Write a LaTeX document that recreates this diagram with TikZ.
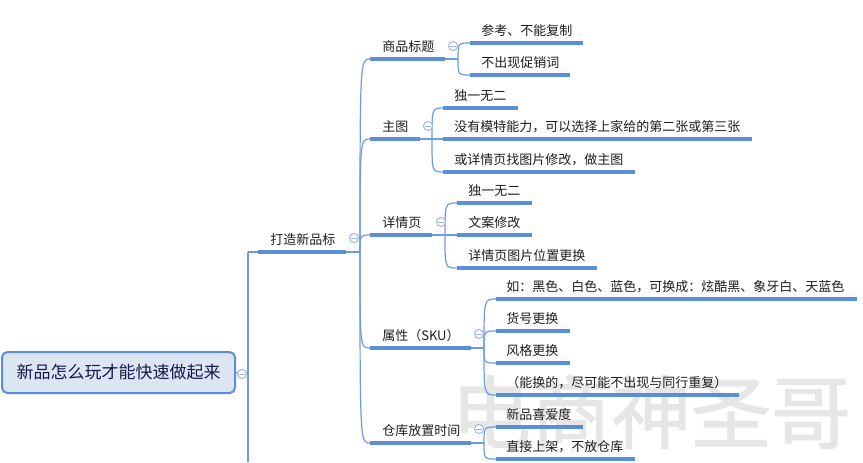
\documentclass[tikz,border=0pt]{standalone}
\usepackage{fontspec}
\setmainfont{Noto Sans CJK SC}
\newfontfamily\wmfont[FakeBold=1.2]{Noto Sans CJK SC}
\definecolor{lineblue}{HTML}{5A8ED8}
\definecolor{thinblue}{HTML}{6C9CE0}
\definecolor{circblue}{HTML}{9DB3DF}
\definecolor{rootfill}{HTML}{DCE6F3}
\definecolor{rootdraw}{HTML}{5B8ED6}
\definecolor{txtcol}{HTML}{1E1E1E}
\definecolor{wmark}{HTML}{E6E6E6}
\tikzset{
  uline/.style={draw=lineblue, line width=2.3pt},
  conn/.style={draw=thinblue, line width=0.9pt},
  txt/.style={anchor=west, inner sep=0pt, text=txtcol, font=\fontsize{9.75pt}{11pt}\selectfont},
  collapse/.style={circle, draw=circblue, fill=white, line width=0.7pt, minimum size=6.8pt, inner sep=0pt,
    path picture={\draw[circblue, line width=0.7pt] ([xshift=-1.9pt]path picture bounding box.center) -- ([xshift=1.9pt]path picture bounding box.center);}},
  rootbox/.style={draw=rootdraw, fill=rootfill, line width=1.5pt, rounded corners=4pt, minimum width=174.75pt, minimum height=30.75pt, inner sep=0pt, text=txtcol!80!blue, font=\fontsize{12.75pt}{14pt}\selectfont},
  watermark/.style={text=wmark, inner sep=0pt, font=\wmfont\fontsize{60pt}{60pt}\selectfont}
}
% #1 name, #2 x start, #3 x end, #4 y, #5 text offset, #6 text
\newcommand\mmleaf[6]{%
  \coordinate (#1s) at (#2,#4);
  \coordinate (#1e) at (#3,#4);
  \draw[uline] (#1s) -- (#1e);
  \node[txt] (#1) at ({#2+#5},{#4-12.5}) {#6};
}
\newcommand\mmfan[2]{% #1 branch coordinate, #2 child start coordinate
  \draw[conn] (#1) .. controls (#1 |- #2) .. (#2);
}
\begin{document}
\begin{tikzpicture}[x=0.75pt, y=-0.75pt]
\useasboundingbox (0,0) rectangle (863,462);
\fill[white] (0,0) rectangle (863,462);
% watermark
\node[watermark] (wm) at (651,412) {电商神圣哥};

% root
\node[rootbox] (root) at (118.5,372.5) {新品怎么玩才能快速做起来};
\coordinate (rj) at (248,373);
\coordinate (rtop) at (248,252);
\coordinate (rbot) at (248,462);
\draw[conn] (root.east) -- (rj);
\draw[conn] (rtop) -- (rbot);

% level 1
\mmleaf{L1}{258}{346}{252}{12}{打造新品标}
\draw[conn] (rtop) -- (L1s);
\draw[conn] (L1e) -- ++(14,0) coordinate (b1);

% level 2
\mmleaf{A}{370}{445}{59}{12}{商品标题}
\mmleaf{B}{370}{420}{139}{12}{主图}
\mmleaf{C}{370}{432}{235}{12}{详情页}
\mmleaf{D}{370}{471}{348}{12}{属性（SKU）}
\mmleaf{E}{370}{471}{443}{12}{仓库放置时间}
\mmfan{b1}{As}
\mmfan{b1}{Bs}
\mmfan{b1}{Cs}
\mmfan{b1}{Ds}
\mmfan{b1}{Es}

% 商品标题 children
\draw[conn] (Ae) -- ++(13,0) coordinate (bA);
\mmleaf{A1}{470}{583}{43}{11}{参考、不能复制}
\mmleaf{A2}{470}{570}{75}{11}{不出现促销词}
\mmfan{bA}{A1s}
\mmfan{bA}{A2s}

% 主图 children
\draw[conn] (Be) -- ++(12,0) coordinate (bB);
\mmleaf{B1}{443}{518}{108}{11}{独一无二}
\mmleaf{B2}{443}{752}{139}{11}{没有模特能力，可以选择上家给的第二张或第三张}
\mmleaf{B3}{443}{635}{172}{11}{或详情页找图片修改，做主图}
\mmfan{bB}{B1s}
\draw[conn] (bB) -- (B2s);
\mmfan{bB}{B3s}

% 详情页 children
\draw[conn] (Ce) -- ++(13,0) coordinate (bC);
\mmleaf{C1}{457}{532}{203}{11}{独一无二}
\mmleaf{C2}{457}{532}{235}{11}{文案修改}
\mmleaf{C3}{457}{597}{268}{11}{详情页图片位置更换}
\mmfan{bC}{C1s}
\draw[conn] (bC) -- (C2s);
\mmfan{bC}{C3s}

% 属性 children
\draw[conn] (De) -- ++(13,0) coordinate (bD);
\mmleaf{D1}{496}{857}{299}{10}{如：黑色、白色、蓝色，可换成：炫酷黑、象牙白、天蓝色}
\mmleaf{D2}{496}{570}{331}{10}{货号更换}
\mmleaf{D3}{496}{570}{363}{10}{风格更换}
\mmleaf{D4}{496}{739}{395}{10}{（能换的，尽可能不出现与同行重复）}
\mmfan{bD}{D1s}
\mmfan{bD}{D2s}
\mmfan{bD}{D3s}
\mmfan{bD}{D4s}

% 仓库 children
\draw[conn] (Ee) -- ++(13,0) coordinate (bE);
\mmleaf{E1}{496}{583}{427}{10}{新品喜爱度}
\mmleaf{E2}{496}{635}{459}{10}{直接上架，不放仓库}
\mmfan{bE}{E1s}
\mmfan{bE}{E2s}

% collapse markers
\node[collapse] (cR) at (242,374) {};
\node[collapse] (c1) at (354,238) {};
\node[collapse] (cA) at (453,46) {};
\node[collapse] (cB) at (428,126) {};
\node[collapse] (cC) at (441,222) {};
\node[collapse] (cD) at (479,334) {};
\node[collapse] (cE) at (479,429) {};
\end{tikzpicture}
\end{document}
